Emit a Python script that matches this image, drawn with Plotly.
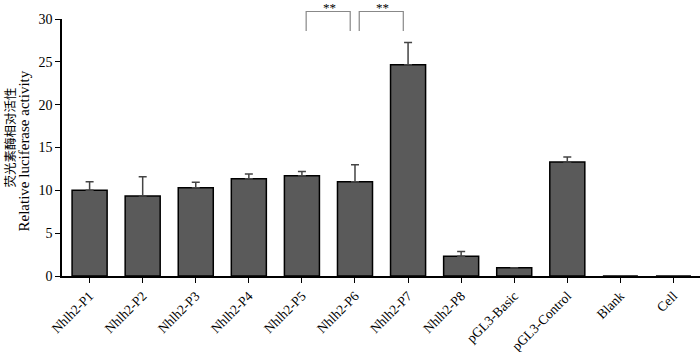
import plotly.graph_objects as go

categories = ["Nhlh2-P1", "Nhlh2-P2", "Nhlh2-P3", "Nhlh2-P4", "Nhlh2-P5", "Nhlh2-P6",
              "Nhlh2-P7", "Nhlh2-P8", "pGL3-Basic", "pGL3-Control", "Blank", "Cell"]
values = [10.0, 9.35, 10.3, 11.35, 11.7, 11.0, 24.65, 2.3, 0.95, 13.3, 0.0, 0.0]
errors = [1.0, 2.25, 0.65, 0.55, 0.5, 2.0, 2.6, 0.55, 0.0, 0.6, 0.0, 0.0]
y_ticks = [0, 5, 10, 15, 20, 25, 30]
sig_pairs = [(5, 6, "**"), (6, 7, "**")]
y_title_cn = "荧光素酶相对活性"
y_title_en = "Relative luciferase activity"

W, H = 700, 352
L, R, T, B = 62, 0, 19, 76

fig = go.Figure()
fig.add_trace(go.Bar(
    x=list(range(len(categories))), y=values,
    width=0.66,
    marker=dict(color="#5a5a5a", line=dict(color="#000000", width=1.5)),
    error_y=dict(type="data", symmetric=False, array=errors,
                 arrayminus=[0]*len(errors), color="#444444", thickness=1.5, width=4),
    showlegend=False,
))

def py(p):
    return (H - B - p) / (H - T - B)

def px(p):
    return (p - L) / (W - L - R)

for a, b, txt in sig_pairs:
    x0 = a - 1 + 0.08
    x1 = b - 1 - 0.09
    fig.add_shape(type="path", xref="x", yref="paper",
                  path=f"M {x0} {py(31)} L {x0} {py(11.5)} L {x1} {py(11.5)} L {x1} {py(31)}",
                  line=dict(color="#888888", width=1.2))
    fig.add_annotation(x=(x0 + x1) / 2 + 0.03, y=py(-2), xref="x", yref="paper",
                       text=txt, showarrow=False, yanchor="top",
                       font=dict(family="Liberation Serif", size=13, color="#000000"))

fig.add_annotation(x=px(8.5), y=py(138), xref="paper", yref="paper", text=y_title_cn,
                   textangle=-90, showarrow=False, xanchor="center", yanchor="middle",
                   font=dict(family="Noto Sans CJK SC", size=12.5, color="#000000"))
fig.add_annotation(x=px(23.5), y=py(151), xref="paper", yref="paper", text=y_title_en,
                   textangle=-90, showarrow=False, xanchor="center", yanchor="middle",
                   font=dict(family="Liberation Serif", size=15, color="#000000"))

fig.update_layout(
    width=W, height=H,
    margin=dict(l=L, r=R, t=T, b=B, autoexpand=False),
    paper_bgcolor="white", plot_bgcolor="white",
    font=dict(family="Liberation Serif", color="#000000"),
)
fig.update_xaxes(
    range=[-0.52, 11.5], automargin=False,
    tickmode="array", tickvals=list(range(len(categories))), ticktext=categories,
    tickangle=-45, tickfont=dict(family="Liberation Serif", size=13.5),
    showline=True, linecolor="#000000", linewidth=1.5,
    ticks="outside", ticklen=5, tickcolor="#000000", tickwidth=1.2,
    showgrid=False, zeroline=False,
)
fig.update_yaxes(
    range=[0, 30], tickvals=y_ticks, automargin=False,
    tickfont=dict(family="Liberation Serif", size=14),
    showline=True, linecolor="#000000", linewidth=1.5,
    ticks="outside", ticklen=5, tickcolor="#000000", tickwidth=1.2,
    showgrid=False, zeroline=False,
)

fig.write_html("out.html", config={"displayModeBar": False},
               post_script="document.body.style.margin='0';")
